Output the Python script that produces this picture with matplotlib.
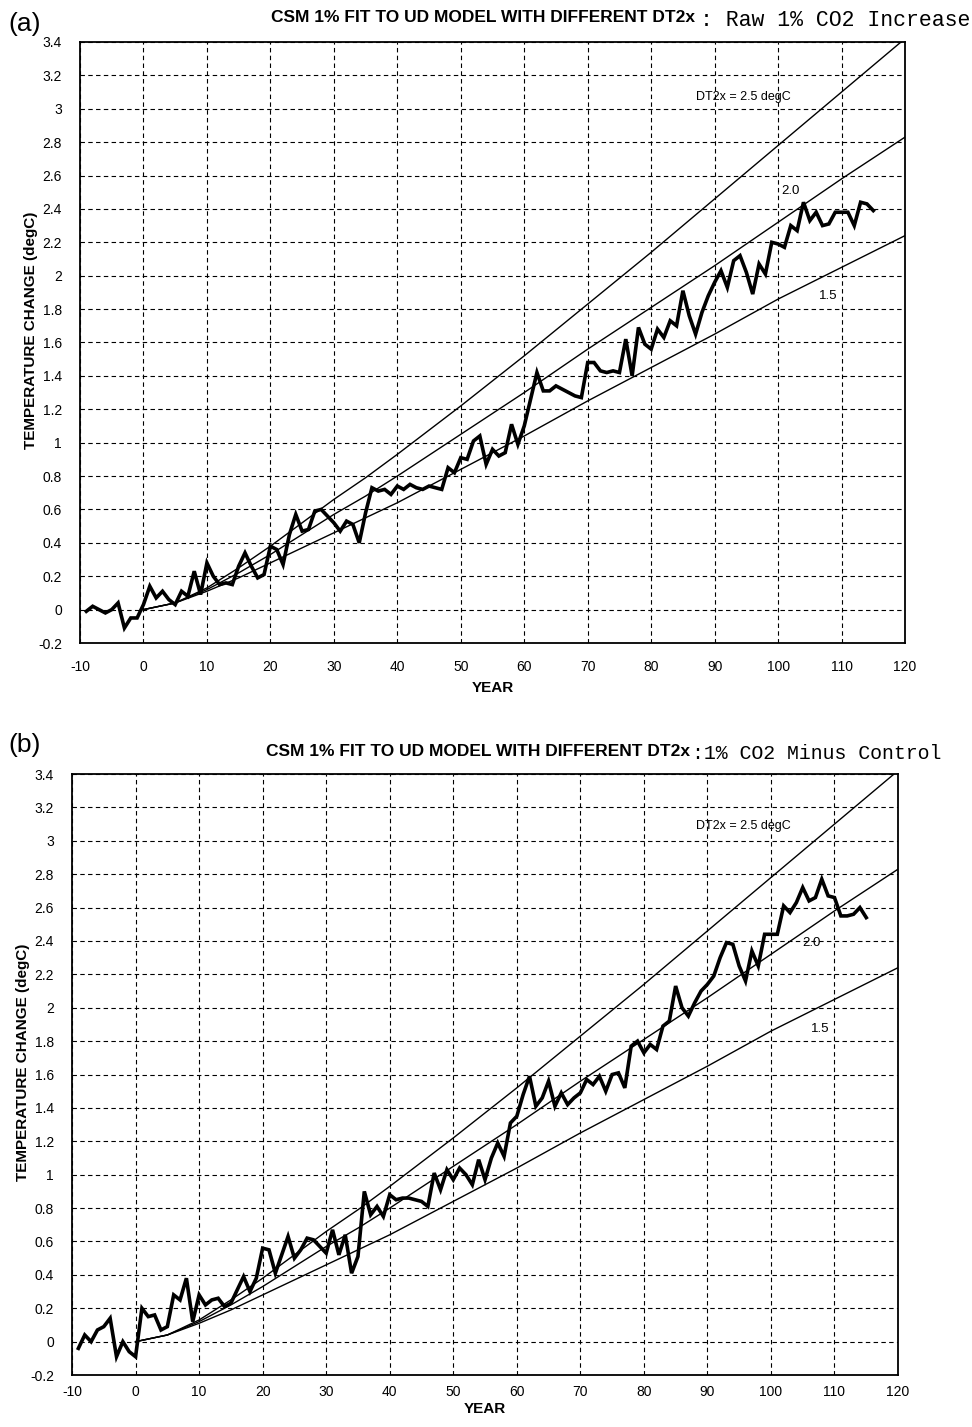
import numpy as np
import matplotlib
matplotlib.use("Agg")
import matplotlib.pyplot as plt
from matplotlib import font_manager
from matplotlib.ticker import MultipleLocator, FuncFormatter

plt.rcParams["axes.unicode_minus"] = False

# pick a narrow sans if there is one
installed = {f.name for f in font_manager.fontManager.ttflist}
NARROW = "Liberation Sans Narrow" if "Liberation Sans Narrow" in installed else "Liberation Sans"

# years of the CSM run (x axis)
years = np.arange(-9, 116)

# (a) raw 1% CO2 increase
temp_raw = [
    -0.01, 0.02, 0.00, -0.02, 0.00, 0.04, -0.11, -0.05, -0.05,
    0.03, 0.14, 0.07, 0.11, 0.06, 0.03, 0.11, 0.08, 0.23, 0.09,
    0.28, 0.20, 0.15, 0.16, 0.15, 0.26, 0.34, 0.26, 0.19, 0.21,
    0.38, 0.36, 0.27, 0.45, 0.57, 0.47, 0.48, 0.59, 0.60, 0.56,
    0.52, 0.47, 0.53, 0.51, 0.40, 0.58, 0.73, 0.71, 0.72, 0.69,
    0.74, 0.72, 0.75, 0.73, 0.72, 0.74, 0.73, 0.72, 0.85, 0.82,
    0.91, 0.90, 1.01, 1.04, 0.87, 0.96, 0.92, 0.94, 1.11, 0.99,
    1.10, 1.26, 1.42, 1.31, 1.31, 1.34, 1.32, 1.30, 1.28, 1.27,
    1.48, 1.48, 1.43, 1.42, 1.43, 1.42, 1.62, 1.40, 1.69, 1.59,
    1.56, 1.68, 1.63, 1.73, 1.70, 1.91, 1.76, 1.65, 1.78, 1.88,
    1.96, 2.03, 1.93, 2.09, 2.12, 2.02, 1.89, 2.07, 2.01, 2.20,
    2.19, 2.17, 2.30, 2.27, 2.44, 2.33, 2.38, 2.30, 2.31, 2.38,
    2.38, 2.38, 2.30, 2.44, 2.43, 2.39,
]

# (b) 1% CO2 minus control
temp_diff = [
    -0.04, 0.04, 0.00, 0.07, 0.09, 0.14, -0.09, 0.00, -0.06,
    -0.09, 0.20, 0.15, 0.16, 0.07, 0.09, 0.28, 0.25, 0.38, 0.12,
    0.28, 0.22, 0.25, 0.26, 0.21, 0.23, 0.31, 0.39, 0.30, 0.38,
    0.56, 0.55, 0.41, 0.52, 0.63, 0.50, 0.55, 0.62, 0.61, 0.57,
    0.53, 0.67, 0.52, 0.64, 0.41, 0.51, 0.90, 0.76, 0.81, 0.75,
    0.88, 0.85, 0.86, 0.86, 0.85, 0.84, 0.81, 1.01, 0.91, 1.03,
    0.97, 1.04, 1.00, 0.94, 1.09, 0.97, 1.10, 1.19, 1.11, 1.31,
    1.35, 1.48, 1.59, 1.41, 1.46, 1.56, 1.41, 1.49, 1.42, 1.46,
    1.49, 1.57, 1.54, 1.59, 1.50, 1.60, 1.61, 1.52, 1.77, 1.80,
    1.73, 1.78, 1.75, 1.89, 1.92, 2.13, 2.00, 1.95, 2.03, 2.10,
    2.14, 2.19, 2.30, 2.39, 2.38, 2.25, 2.16, 2.34, 2.25, 2.44,
    2.44, 2.44, 2.61, 2.57, 2.63, 2.72, 2.64, 2.66, 2.77, 2.67,
    2.66, 2.55, 2.55, 2.56, 2.60, 2.54,
]

# UD model curves, read every 5-10 years
fit_years = [0, 5, 10, 15, 20, 25, 30, 35, 40, 50, 60, 70, 80, 90, 100, 110, 120]
fit_25 = [0, 0.04, 0.13, 0.25, 0.38, 0.52, 0.66, 0.79, 0.93, 1.22, 1.52, 1.83, 2.14, 2.46, 2.78, 3.10, 3.42]
fit_20 = [0, 0.04, 0.12, 0.22, 0.33, 0.45, 0.57, 0.68, 0.80, 1.05, 1.30, 1.56, 1.81, 2.06, 2.32, 2.58, 2.83]
fit_15 = [0, 0.04, 0.11, 0.19, 0.28, 0.37, 0.46, 0.55, 0.64, 0.84, 1.04, 1.25, 1.45, 1.65, 1.86, 2.05, 2.24]

fig = plt.figure(figsize=(9.72, 14.27), dpi=100)
ax_a = fig.add_axes([0.0823, 0.5494, 0.8488, 0.4212])
ax_b = fig.add_axes([0.0741, 0.0364, 0.8498, 0.4212])


def draw_panel(ax, temps, lab25, lab20, lab15, xpad, xlabelpad):
    ax.plot(fit_years, fit_25, color="black", lw=1.0)
    ax.plot(fit_years, fit_20, color="black", lw=1.0)
    ax.plot(fit_years, fit_15, color="black", lw=1.0)
    ax.plot(years, temps, color="black", lw=2.6, solid_joinstyle="miter")

    ax.set_xlim(-10, 120)
    ax.set_ylim(-0.2, 3.4)
    ax.xaxis.set_major_locator(MultipleLocator(10))
    ax.yaxis.set_major_locator(MultipleLocator(0.2))
    ax.yaxis.set_major_formatter(FuncFormatter(lambda v, p: f"{round(v, 1):g}"))
    ax.grid(True, color="black", linestyle=(0, (4, 3)), lw=0.8)
    ax.tick_params(axis="y", length=0, pad=13, labelsize=10)
    ax.tick_params(axis="x", length=0, pad=xpad, labelsize=10)
    for lab in ax.get_xticklabels() + ax.get_yticklabels():
        lab.set_fontfamily(NARROW)
    for s in ax.spines.values():
        s.set_linewidth(1.3)

    ax.set_xlabel("YEAR", fontsize=11, fontweight="bold", family=NARROW, labelpad=xlabelpad)
    ax.set_ylabel("TEMPERATURE CHANGE (degC)", fontsize=11, fontweight="bold", family=NARROW)
    ax.yaxis.set_label_coords(-0.051, 0.52)

    ax.text(lab25[0], lab25[1], "DT2x = 2.5 degC", fontsize=9, family=NARROW,
            ha="center", va="center")
    ax.text(lab20[0], lab20[1], "2.0", fontsize=9.5, family=NARROW, ha="center", va="center")
    ax.text(lab15[0], lab15[1], "1.5", fontsize=9.5, family=NARROW, ha="center", va="center")


draw_panel(ax_a, temp_raw, (94.6, 3.07), (102.0, 2.51), (107.9, 1.88), 12, 5)
draw_panel(ax_b, temp_diff, (95.6, 3.09), (106.4, 2.39), (107.7, 1.87), 7, 2)

title = "CSM 1% FIT TO UD MODEL WITH DIFFERENT DT2x"
# panel (a) heading
fig.text(8 / 972, 1 - 24 / 1427, "(a)", fontsize=19, family="Liberation Sans", va="center")
fig.text(695 / 972, 1 - 18 / 1427, title, fontsize=12.5, fontweight="bold",
         family=NARROW, ha="right", va="center")
fig.text(700 / 972, 1 - 20 / 1427, ": Raw 1% CO2 Increase", fontsize=15.5,
         family="Liberation Mono", ha="left", va="center")
# panel (b) heading
fig.text(8 / 972, 1 - 745 / 1427, "(b)", fontsize=19, family="Liberation Sans", va="center")
fig.text(690 / 972, 1 - 752 / 1427, title, fontsize=12.5, fontweight="bold",
         family=NARROW, ha="right", va="center")
fig.text(692 / 972, 1 - 753 / 1427, ":1% CO2 Minus Control", fontsize=14.3,
         family="Liberation Mono", ha="left", va="center")

fig.savefig("out.png", dpi=100)
